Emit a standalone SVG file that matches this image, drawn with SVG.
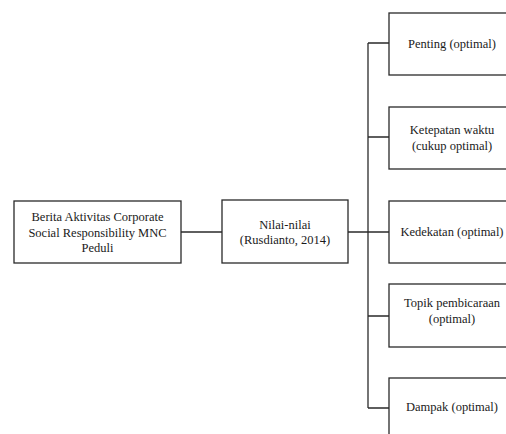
<svg xmlns="http://www.w3.org/2000/svg" width="506" height="434" viewBox="0 0 506 434">
<style>
.box{fill:#fff;stroke:#2a2a2a;stroke-width:1.3}
.ln{fill:none;stroke:#2a2a2a;stroke-width:1.3}
text{font-family:"Liberation Serif","Times New Roman",serif;font-size:12.5px;fill:#1a1a1a;text-anchor:middle}
</style>
<rect width="506" height="434" fill="#fff"/>
<g id="connectors">
<path class="ln" d="M181 232H222"/>
<path class="ln" d="M348 232H389"/>
<path class="ln" d="M368 43V408"/>
<path class="ln" d="M368 43H389M368 137H389M368 316H389M368 408H389"/>
</g>
<g id="n1"><rect class="box" x="14" y="201" width="167" height="62"/>
<text x="97.5" y="221">Berita Aktivitas Corporate</text>
<text x="97.5" y="236.5">Social Responsibility MNC</text>
<text x="97.5" y="252">Peduli</text></g>
<g id="n2"><rect class="box" x="222" y="200" width="126" height="63"/>
<text x="285" y="228.5">Nilai-nilai</text>
<text x="285" y="244">(Rusdianto, 2014)</text></g>
<g id="n3"><rect class="box" x="389" y="13" width="126" height="62"/>
<text x="452" y="47.5">Penting (optimal)</text></g>
<g id="n4"><rect class="box" x="389" y="107" width="126" height="62"/>
<text x="452" y="133.5">Ketepatan waktu</text>
<text x="452" y="149.5">(cukup optimal)</text></g>
<g id="n5"><rect class="box" x="389" y="201" width="126" height="62"/>
<text x="452" y="235.5">Kedekatan (optimal)</text></g>
<g id="n6"><rect class="box" x="389" y="284" width="126" height="63"/>
<text x="452" y="307">Topik pembicaraan</text>
<text x="452" y="323">(optimal)</text></g>
<g id="n7"><rect class="box" x="389" y="378" width="126" height="70"/>
<text x="452" y="410.5">Dampak (optimal)</text></g>
</svg>
